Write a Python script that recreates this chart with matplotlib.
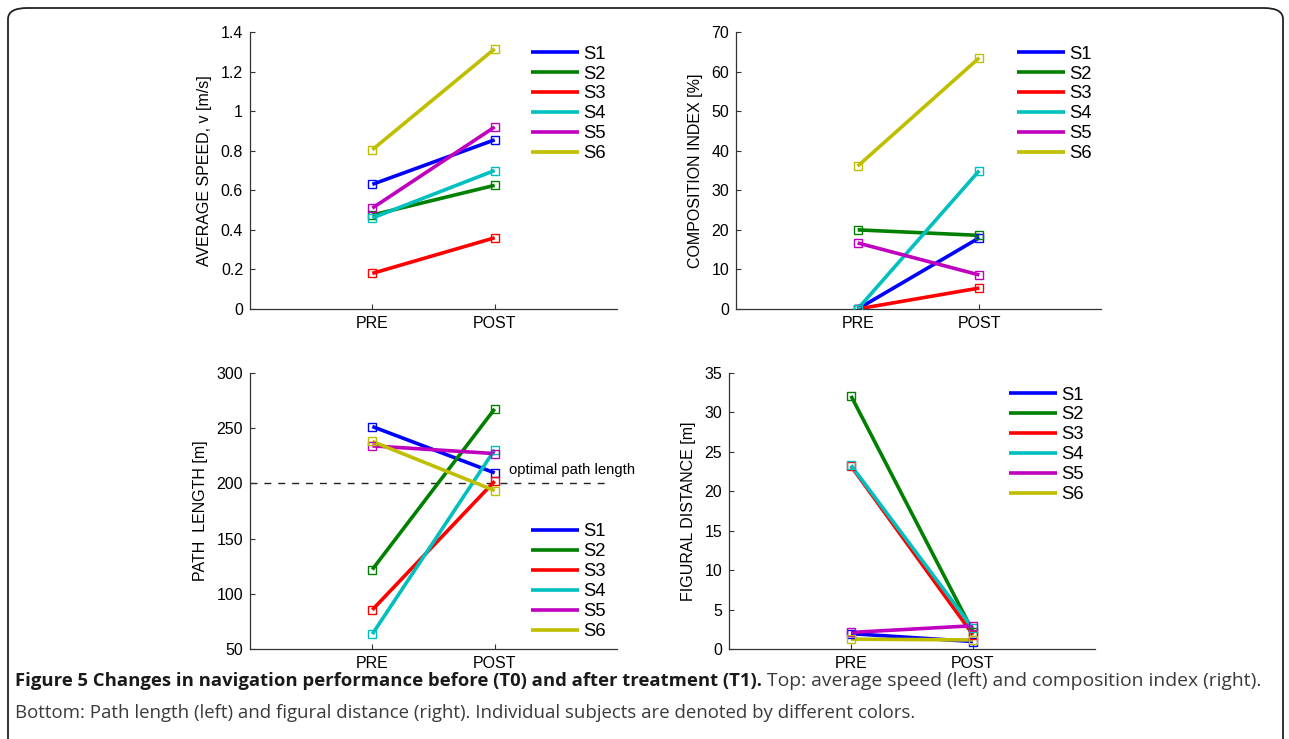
import matplotlib
matplotlib.use("Agg")
import matplotlib.pyplot as plt
from matplotlib.patches import FancyBboxPatch

plt.rcParams['font.family'] = ['Liberation Sans', 'DejaVu Sans']

# data
subjects = ['S1', 'S2', 'S3', 'S4', 'S5', 'S6']
phases = ['PRE', 'POST']
colors = [(0, 0, 1), (0, 0.5, 0), (1, 0, 0), (0, 0.75, 0.75), (0.75, 0, 0.75), (0.75, 0.75, 0)]

speed_pre = [0.63, 0.475, 0.18, 0.46, 0.51, 0.805]
speed_post = [0.855, 0.625, 0.36, 0.70, 0.92, 1.315]

comp_pre = [0.0, 20.0, 0.0, 0.0, 16.7, 36.1]
comp_post = [18.0, 18.6, 5.3, 35.0, 8.6, 63.5]

path_pre = [251.5, 122, 85.5, 63.5, 234, 238]
path_post = [209.5, 267.5, 202, 230.5, 227, 193.5]
optimal_path = 200

fig_pre = [1.95, 32.1, 23.2, 23.3, 2.1, 1.25]
fig_post = [0.95, 2.2, 1.8, 2.6, 2.95, 1.15]

W, H = 1289, 739
fig = plt.figure(figsize=(W / 100, H / 100), dpi=100)

FS = 11.5
LFS = 13.3


def px_axes(left, top, right, bottom):
    return fig.add_axes([left / W, 1 - bottom / H, (right - left) / W, (bottom - top) / H])


def panel(ax, pre, post, ylim, yticks, ylabel, legend_xy):
    for i, s in enumerate(subjects):
        ax.plot([1, 2], [pre[i], post[i]], '-', color=colors[i], lw=2.6, label=s,
                solid_capstyle='butt', zorder=2)
        ax.plot([1, 2], [pre[i], post[i]], 's', color=colors[i], mfc='none',
                ms=6, mew=1.0, zorder=3)
    ax.set_xlim(0, 3)
    ax.set_ylim(*ylim)
    ax.set_yticks(yticks)
    ax.set_xticks([1, 2])
    ax.set_xticklabels(phases)
    ax.set_ylabel(ylabel, fontsize=FS, labelpad=6)
    for side in ['top', 'right']:
        ax.spines[side].set_visible(False)
    for side in ['left', 'bottom']:
        ax.spines[side].set_color('#333333')
        ax.spines[side].set_linewidth(0.9)
    ax.tick_params(direction='in', length=3.5, width=0.8, color='#333333', labelsize=FS, pad=5)
    ax.legend(loc='upper left', bbox_to_anchor=legend_xy, frameon=False, fontsize=LFS,
              handlelength=2.6, handletextpad=0.22, labelspacing=0.16,
              borderpad=0, borderaxespad=0)


ax1 = px_axes(250, 32, 617, 309)
panel(ax1, speed_pre, speed_post, (0, 1.4), [0, 0.2, 0.4, 0.6, 0.8, 1, 1.2, 1.4],
      'AVERAGE SPEED, v [m/s]', (0.766, 0.951))
ax1.set_yticklabels(['0', '0.2', '0.4', '0.6', '0.8', '1', '1.2', '1.4'])

ax2 = px_axes(736, 32, 1101, 309)
panel(ax2, comp_pre, comp_post, (0, 70), range(0, 71, 10),
      'COMPOSITION INDEX [%]', (0.77, 0.951))

ax3 = px_axes(250, 373, 617, 649)
ax3.axhline(optimal_path, xmax=0.98, color='#222222', lw=1.0, ls=(0, (5, 5)), zorder=1)
panel(ax3, path_pre, path_post, (50, 300), range(50, 301, 50),
      'PATH  LENGTH [m]', (0.766, 0.455))
ax3.text(2.12, 212, 'optimal path length', fontsize=10.7, va='center', ha='left')

ax4 = px_axes(729, 373, 1095, 649)
panel(ax4, fig_pre, fig_post, (0, 35), range(0, 36, 5),
      'FIGURAL DISTANCE [m]', (0.766, 0.951))

# rounded frame round the figure
frame = FancyBboxPatch((8 / W, -0.05), (1283 - 8) / W, 1.05 - 8 / H,
                       boxstyle='round,pad=0,rounding_size=0.015',
                       transform=fig.transFigure, fill=False, ec='#222222', lw=1.3)
fig.add_artist(frame)

# caption
cap = fig.add_axes([0, 0, 1, 1], zorder=-1)
cap.axis('off')
cap.set_xlim(0, W)
cap.set_ylim(H, 0)
CFS = 13.3
t1 = cap.text(15, 686, 'Figure 5 Changes in navigation performance before (T0) and after treatment (T1).',
              fontsize=CFS, fontweight='bold', family=['Open Sans', 'DejaVu Sans'],
              color='#1a1a1a', va='baseline', ha='left')
cap.annotate(' Top: average speed (left) and composition index (right).', xy=(1, 0), xycoords=t1,
             fontsize=CFS + 0.6, family=['Open Sans', 'DejaVu Sans'], color='#3a3a3a',
             va='bottom', ha='left')
cap.text(15, 718, 'Bottom: Path length (left) and figural distance (right). Individual subjects are denoted by different colors.',
         fontsize=CFS + 0.1, family=['Open Sans', 'DejaVu Sans'], color='#3a3a3a',
         va='baseline', ha='left')

fig.savefig('out.png', dpi=100)
